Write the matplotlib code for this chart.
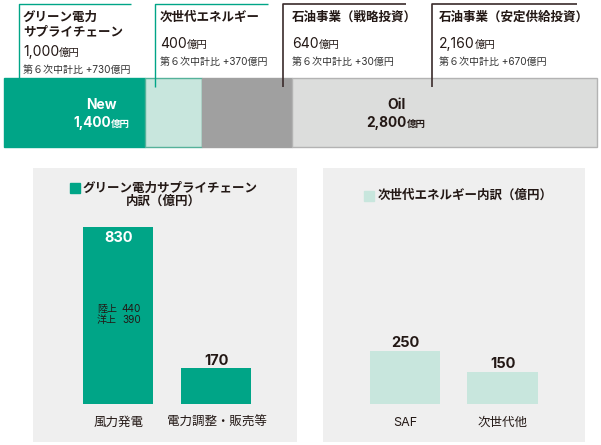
import matplotlib
matplotlib.use('Agg')
import matplotlib.pyplot as plt
from matplotlib.patches import Rectangle

plt.rcParams['font.family'] = ['Inter', 'Noto Sans CJK JP', 'DejaVu Sans']

W, H = 601, 445

# top stacked bar (億円)
seg_names = [['グリーン電力', 'サプライチェーン'], ['次世代エネルギー'],
             ['石油事業（戦略投資）'], ['石油事業（安定供給投資）']]
seg_values = [1000, 400, 640, 2160]
seg_value_labels = ['1,000', '400', '640', '2,160']
seg_diff = ['+730', '+370', '+30', '+670']
seg_colors = ['#00a587', '#c8e6dd', '#a0a0a0', '#dcdddc']
seg_edges = ['#00a587', '#55b29a', '#a0a0a0', '#b3b3b3']
line_colors = ['#00a587', '#00a587', '#3a2b2b', '#3a2b2b']

group_names = ['New', 'Oil']
group_totals = ['1,400', '2,800']

# breakdowns (億円)
green_cats = ['風力発電', '電力調整・販売等']
green_vals = [830, 170]
wind_names = ['陸上', '洋上']
wind_vals = [440, 390]
next_cats = ['SAF', '次世代他']
next_vals = [250, 150]

GREEN = '#00a587'
LIGHT = '#c8e6dd'
DARK = '#231815'

fig = plt.figure(figsize=(6.01, 4.45), dpi=100)
renderer = fig.canvas.get_renderer()


def px_rect(x0, y0, x1, y1):
    return [x0 / W, 1 - y1 / H, (x1 - x0) / W, (y1 - y0) / H]


# ---- top bar
ax_top = fig.add_axes(px_rect(4, 78, 597, 147))
left = 0
for v, c, e in zip(seg_values, seg_colors, seg_edges):
    ax_top.barh(0, v, left=left, height=1, color=c, edgecolor=e, linewidth=1, clip_on=False)
    left += v
ax_top.set_xlim(0, sum(seg_values))
ax_top.set_ylim(-0.5, 0.5)
ax_top.axis('off')

# overlay in pixel coordinates
ov = fig.add_axes([0, 0, 1, 1], zorder=5)
ov.set_xlim(0, W)
ov.set_ylim(H, 0)
ov.axis('off')
ov.patch.set_alpha(0)


def rich(x, y, parts, ha='left'):
    texts = []
    cx = x
    for s, size, weight, color in parts:
        t = ov.text(cx, y, s, fontsize=size, fontweight=weight, color=color,
                    va='baseline', ha='left')
        w = t.get_window_extent(renderer=renderer).width
        texts.append(t)
        cx += w
    if ha == 'center':
        shift = (cx - x) / 2
        for t in texts:
            px, py = t.get_position()
            t.set_position((px - shift, py))


# callouts
call_x = [19, 155, 283, 432]
call_end = [131, 268, 406, 577]
text_x = [23, 160, 292, 439]
for i in range(4):
    ov.plot([call_x[i], call_x[i], call_end[i]], [87, 4, 4], color=line_colors[i],
            lw=1.0 if i < 2 else 1.2, solid_capstyle='butt')
    y = 18
    for ln in seg_names[i]:
        ov.text(text_x[i], y, ln, fontsize=9, fontweight='bold', color=DARK, va='center')
        y += 14
    vb = y + 10 if i == 0 else 48
    rich(text_x[i], vb, [(seg_value_labels[i], 10, 'normal', DARK), ('億円', 7.5, 'normal', DARK)])
    ov.text(text_x[i], vb + 13.5, '第６次中計比 ' + seg_diff[i] + '億円', fontsize=7.2,
            color='#333333', va='center')

# group labels
rich(101.5, 109, [(group_names[0], 10, 'bold', 'white')], ha='center')
rich(101.5, 127, [(group_totals[0], 9.8, 'bold', 'white'), ('億円', 6.8, 'bold', 'white')], ha='center')
rich(397, 109, [(group_names[1], 10, 'bold', DARK)], ha='center')
rich(396, 127, [(group_totals[1], 9.8, 'bold', DARK), ('億円', 6.8, 'bold', DARK)], ha='center')

# ---- bottom panels
k = 177 / 830.0
ymin = -38 / k
ymax = ymin + 274 / k

axL = fig.add_axes(px_rect(33, 168, 297, 442))
axL.set_facecolor('#efefef')
axL.bar(range(len(green_vals)), green_vals, width=0.714, color=GREEN)
axL.set_xlim(-0.872, 1.822)
axL.set_ylim(ymin, ymax)

axR = fig.add_axes(px_rect(323, 168, 585, 442))
axR.set_facecolor('#efefef')
axR.bar(range(len(next_vals)), next_vals, width=0.728, color=LIGHT)
axR.set_xlim(-0.841, 1.846)
axR.set_ylim(ymin, ymax)

for ax in (axL, axR):
    ax.set_xticks([])
    ax.set_yticks([])
    for s in ax.spines.values():
        s.set_visible(False)

for ax, cats in ((axL, green_cats), (axR, next_cats)):
    for i, c in enumerate(cats):
        ax.annotate(c, (i, 0), xytext=(0, -19), textcoords='offset pixels',
                    ha='center', va='center', fontsize=9, color=DARK)

axL.annotate(str(green_vals[0]), (0, green_vals[0]), xytext=(0, -15), textcoords='offset pixels',
             ha='center', va='baseline', fontsize=10.5, fontweight='bold', color='white')
axL.annotate(str(green_vals[1]), (1, green_vals[1]), xytext=(0, 3), textcoords='offset pixels',
             ha='center', va='baseline', fontsize=10.5, fontweight='bold', color=DARK)
for i, v in enumerate(next_vals):
    axR.annotate(str(v), (i, v), xytext=(0, 4), textcoords='offset pixels',
                 ha='center', va='baseline', fontsize=10.5, fontweight='bold', color=DARK)

for j, (n, v) in enumerate(zip(wind_names, wind_vals)):
    axL.annotate(n, (0, green_vals[0]), xytext=(-21.5, -82 - 10.5 * j), textcoords='offset pixels',
                 ha='left', va='center', fontsize=7.2, color=DARK)
    axL.annotate(str(v), (0, green_vals[0]), xytext=(22.5, -82 - 10.5 * j), textcoords='offset pixels',
                 ha='right', va='center', fontsize=7.2, color=DARK)

# panel titles
ov.add_patch(Rectangle((70, 183), 10, 10, color=GREEN))
ov.text(83, 188.5, 'グリーン電力サプライチェーン', fontsize=9, fontweight='bold', color=DARK, va='center')
ov.text(163, 202, '内訳（億円）', fontsize=9, fontweight='bold', color=DARK, va='center', ha='center')
ov.add_patch(Rectangle((364, 191), 10, 9.5, color=LIGHT))
ov.text(378, 196, '次世代エネルギー内訳（億円）', fontsize=9, fontweight='bold', color=DARK, va='center')

fig.savefig('out.png', dpi=100)
